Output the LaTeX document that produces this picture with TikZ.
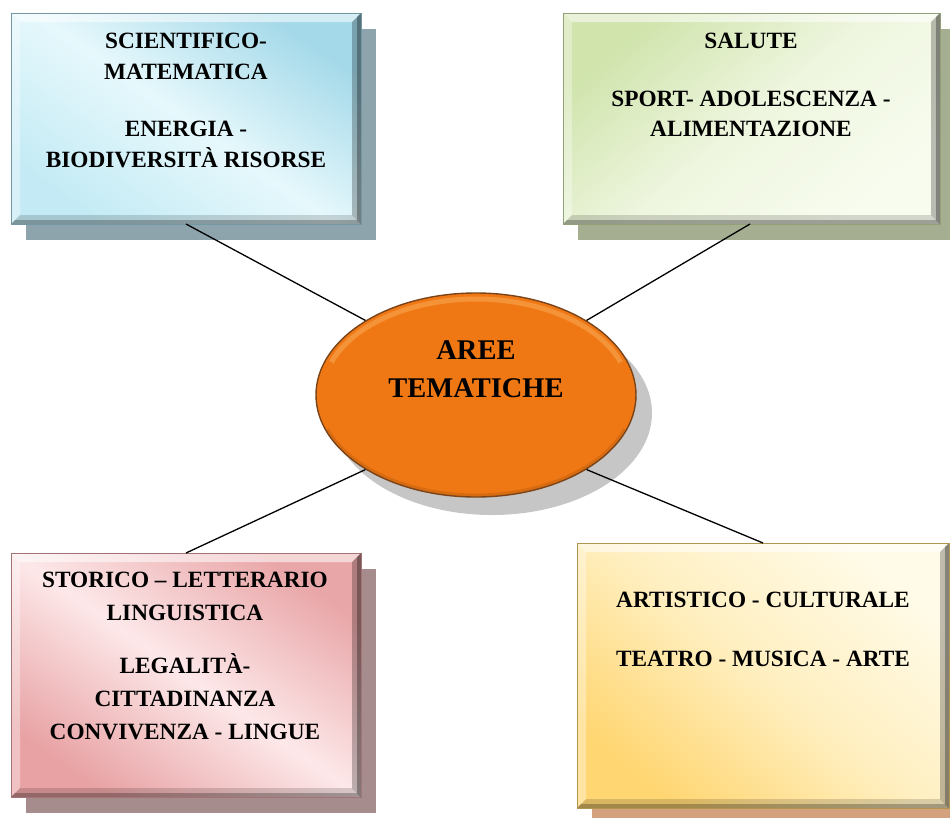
\documentclass[tikz,border=0pt]{standalone}
\usepackage{fontspec}
\setmainfont{Liberation Serif}
\usetikzlibrary{shapes.geometric,shadows}
\definecolor{blueD}{HTML}{A4D9E9}
\definecolor{blueM}{HTML}{E6F8FC}
\definecolor{blueB}{HTML}{C4EBF5}
\definecolor{blueSh}{HTML}{8EA4AD}
\definecolor{greenD}{HTML}{D0E4AC}
\definecolor{greenM}{HTML}{EEF6DF}
\definecolor{greenB}{HTML}{F8FCEF}
\definecolor{greenSh}{HTML}{A5AE91}
\definecolor{pinkD}{HTML}{E9A6A8}
\definecolor{pinkM}{HTML}{FDE8E9}
\definecolor{pinkB}{HTML}{E8A2A4}
\definecolor{pinkSh}{HTML}{A68C8D}
\definecolor{yelT}{HTML}{FFFBE8}
\definecolor{yelM}{HTML}{FFEFC0}
\definecolor{yelB}{HTML}{FFD672}
\definecolor{yelSh}{HTML}{D3A17E}
\definecolor{ellOr}{HTML}{F07814}
\definecolor{ellRim}{HTML}{7A4418}
\definecolor{ellHi}{HTML}{F9A552}
\definecolor{ellSh}{HTML}{C6C6C6}
\tikzset{
  bevel/.style={path picture={
    \path (path picture bounding box.north west) coordinate (bnw)
          (path picture bounding box.north east) coordinate (bne)
          (path picture bounding box.south west) coordinate (bsw)
          (path picture bounding box.south east) coordinate (bse);
    \fill[white,opacity=.55] (bnw) -- (bne) -- ([xshift=-9pt,yshift=-9pt]bne) -- ([xshift=9pt,yshift=-9pt]bnw) -- cycle;
    \fill[white,opacity=.35] (bnw) -- ([xshift=9pt,yshift=-9pt]bnw) -- ([xshift=9pt,yshift=9pt]bsw) -- (bsw) -- cycle;
    \fill[black,opacity=.25] (bne) -- (bse) -- ([xshift=-9pt,yshift=9pt]bse) -- ([xshift=-9pt,yshift=-9pt]bne) -- cycle;
    \fill[black,opacity=.3] (bne) -- (bse) -- ([xshift=-4pt,yshift=4pt]bse) -- ([xshift=-4pt,yshift=-4pt]bne) -- cycle;
    \fill[black,opacity=.15] (bsw) -- (bse) -- ([xshift=-9pt,yshift=9pt]bse) -- ([xshift=9pt,yshift=9pt]bsw) -- cycle;
    \fill[black,opacity=.25] (bsw) -- (bse) -- ([xshift=-4pt,yshift=4pt]bse) -- ([xshift=4pt,yshift=4pt]bsw) -- cycle;
  }},
  areabox/.style={rectangle, inner sep=0pt, line width=0.6pt, bevel},
  boxtext/.style={anchor=north, inner sep=0pt, align=center,
    font=\fontsize{23.3}{30.5}\selectfont\bfseries},
  conn/.style={draw=black, line width=1.3pt},
}
\begin{document}
\begin{tikzpicture}[x=1pt,y=-1pt]
\useasboundingbox (0,0) rectangle (950,817);
% boxes
\node[areabox, minimum width=350pt, minimum height=211pt, draw=blueD!70!black,
  top color=blueD, bottom color=blueB, middle color=blueM, shading angle=-35,
  drop shadow={shadow xshift=15pt,shadow yshift=-16pt,fill=blueSh,opacity=1}]
  (tl) at (186,118.5) {};
\node[areabox, minimum width=377pt, minimum height=211pt, draw=greenD!70!black,
  top color=greenD, bottom color=greenB, middle color=greenM, shading angle=40,
  drop shadow={shadow xshift=15pt,shadow yshift=-16pt,fill=greenSh,opacity=1}]
  (tr) at (751.5,118.5) {};
\node[areabox, minimum width=350pt, minimum height=244pt, draw=pinkD!70!black,
  top color=pinkD, bottom color=pinkB, middle color=pinkM, shading angle=-35,
  drop shadow={shadow xshift=15pt,shadow yshift=-16pt,fill=pinkSh,opacity=1}]
  (bl) at (186,675) {};
\node[areabox, minimum width=372pt, minimum height=265pt, draw=yelB!70!black,
  top color=yelT, bottom color=yelB, middle color=yelM, shading angle=-40,
  drop shadow={shadow xshift=15pt,shadow yshift=-12pt,fill=yelSh,opacity=1}]
  (br) at (763,675.5) {};
% texts
\node[boxtext] (tltext) at (186,33) {SCIENTIFICO-\\MATEMATICA\\[27pt]ENERGIA -\\BIODIVERSITÀ RISORSE};
\node[boxtext] (trtext) at (751,33) {SALUTE\\[27pt]SPORT- ADOLESCENZA -\\ALIMENTAZIONE};
\node[boxtext, font=\fontsize{23.3}{33}\selectfont\bfseries] (bltext) at (185,572) {STORICO – LETTERARIO\\LINGUISTICA\\[20pt]LEGALITÀ-\\CITTADINANZA\\CONVIVENZA - LINGUE};
\node[boxtext] (brtext) at (763,592) {ARTISTICO - CULTURALE\\[28pt]TEATRO - MUSICA - ARTE};
% central ellipse
\node[ellipse, minimum width=320pt, minimum height=204pt, inner sep=0pt,
  fill=ellOr, draw=ellRim, line width=1.4pt,
  drop shadow={shadow xshift=16pt,shadow yshift=-18pt,fill=ellSh,opacity=1},
  path picture={
    \coordinate (ec) at (path picture bounding box.center);
    \draw[ellHi, line width=5pt, opacity=.6] ([xshift=-144.7pt,yshift=32.8pt]ec) arc[start angle=160, end angle=20, x radius=154pt, y radius=96pt];
    \draw[black, line width=3pt, opacity=.1] ([xshift=-148.5pt,yshift=-34.2pt]ec) arc[start angle=200, end angle=340, x radius=158pt, y radius=100pt];
  }] (ell) at (476,395) {};
\node[anchor=north, inner sep=0pt, align=center,
  font=\fontsize{28.5}{38}\selectfont\bfseries] (elltext) at (476,340) {AREE\\TEMATICHE};
% connectors
\coordinate (c1) at (186,224);
\coordinate (c2) at (750,224);
\coordinate (c3) at (186,553);
\coordinate (c4) at (763,543);
\draw[conn] (c1) -- (ell.146);
\draw[conn] (c2) -- (ell.34);
\draw[conn] (c3) -- (ell.214);
\draw[conn] (c4) -- (ell.326);
\end{tikzpicture}
\end{document}
